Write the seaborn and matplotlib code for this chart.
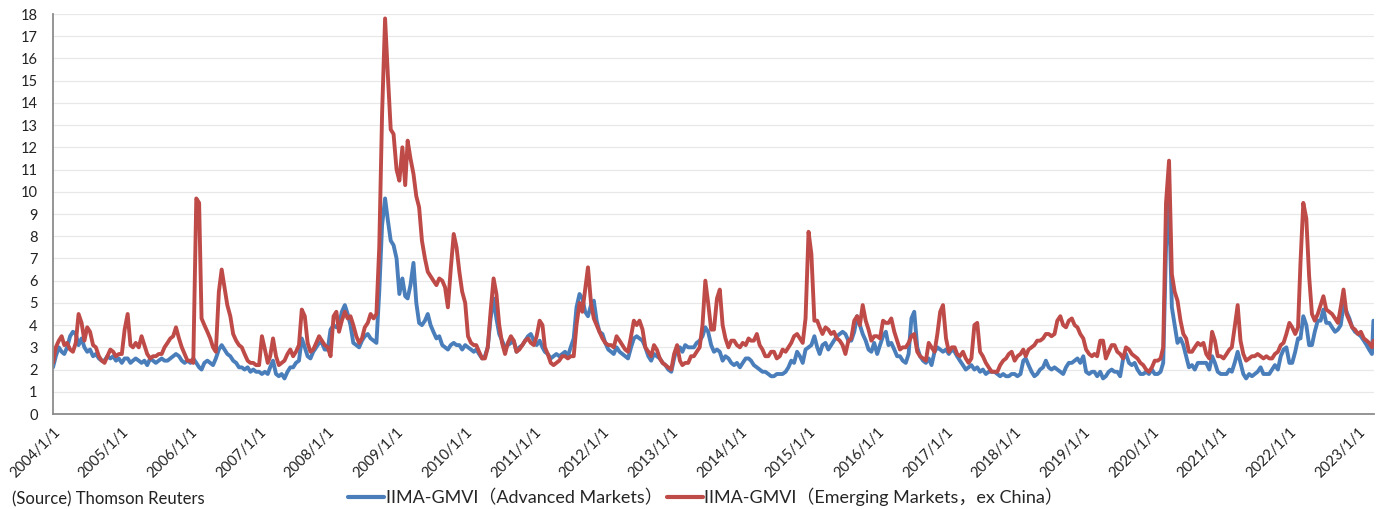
import matplotlib
matplotlib.use("Agg")
import matplotlib.pyplot as plt
import numpy as np
import pandas as pd
import seaborn as sns

# Semi-monthly readings (1st and 16th of each month), 2004/1/1 .. 2023/3
series_names = ["IIMA-GMVI（Advanced Markets）", "IIMA-GMVI（Emerging Markets，ex China）"]
year_ticks = list(range(2004, 2024))

advanced = [
    # 2004
    2.1, 2.6, 3.0, 2.8, 2.7, 3.0, 3.5, 3.7, 3.6, 3.1, 3.4, 3.0, 2.8, 2.9, 2.6, 2.7, 2.5, 2.4, 2.4, 2.6, 2.5, 2.6, 2.4, 2.5,
    # 2005
    2.3, 2.5, 2.5, 2.3, 2.4, 2.5, 2.4, 2.3, 2.4, 2.2, 2.5, 2.4, 2.3, 2.4, 2.5, 2.4, 2.4, 2.5, 2.6, 2.7, 2.6, 2.4, 2.3, 2.4,
    # 2006
    2.3, 2.5, 2.3, 2.1, 2.0, 2.3, 2.4, 2.3, 2.2, 2.5, 2.9, 3.1, 2.9, 2.7, 2.6, 2.4, 2.3, 2.1, 2.1, 2.0, 2.1, 1.9, 2.0, 1.9,
    # 2007
    1.9, 1.8, 1.9, 1.8, 2.1, 2.4, 1.8, 1.7, 1.8, 1.6, 1.9, 2.1, 2.1, 2.3, 2.4, 3.4, 3.0, 2.6, 2.5, 2.8, 3.0, 3.2, 3.2, 2.9,
    # 2008
    2.9, 3.8, 4.0, 3.9, 4.0, 4.6, 4.9, 4.5, 4.0, 3.2, 3.1, 3.0, 3.3, 3.5, 3.6, 3.4, 3.3, 3.2, 5.5, 8.5, 9.7, 8.7, 7.8, 7.6,
    # 2009
    7.0, 5.4, 6.1, 5.3, 5.2, 5.8, 6.8, 5.0, 4.1, 4.0, 4.2, 4.5, 4.0, 3.7, 3.4, 3.5, 3.1, 3.0, 2.9, 3.1, 3.2, 3.1, 3.1, 2.9,
    # 2010
    3.1, 3.0, 2.9, 2.8, 2.9, 2.7, 2.5, 2.6, 3.0, 4.3, 5.2, 4.3, 3.6, 3.3, 3.0, 3.1, 3.2, 3.3, 2.8, 3.0, 3.1, 3.3, 3.5, 3.6,
    # 2011
    3.3, 3.1, 3.3, 3.0, 2.8, 2.7, 2.5, 2.6, 2.7, 2.6, 2.7, 2.8, 2.6, 3.0, 3.4, 4.8, 5.4, 5.2, 4.6, 4.4, 4.9, 5.1, 4.2, 3.7,
    # 2012
    3.6, 3.2, 2.9, 2.8, 2.7, 3.0, 2.8, 2.7, 2.6, 2.5, 3.0, 3.4, 3.5, 3.4, 3.3, 3.0, 2.6, 2.4, 2.7, 2.6, 2.5, 2.3, 2.2, 2.0,
    # 2013
    1.9, 2.5, 3.0, 3.0, 2.8, 3.1, 3.0, 3.0, 3.0, 3.2, 3.3, 3.5, 3.9, 3.7, 3.1, 2.8, 2.9, 2.8, 2.4, 2.6, 2.5, 2.3, 2.2, 2.3,
    # 2014
    2.1, 2.3, 2.5, 2.5, 2.4, 2.2, 2.1, 2.0, 1.9, 1.9, 1.8, 1.7, 1.7, 1.8, 1.8, 1.8, 1.9, 2.1, 2.4, 2.3, 2.8, 2.6, 2.3, 2.9,
    # 2015
    3.0, 3.1, 3.5, 3.0, 2.7, 3.1, 3.2, 2.9, 3.1, 3.3, 3.5, 3.6, 3.7, 3.6, 3.3, 3.3, 3.7, 4.4, 4.0, 3.6, 3.3, 2.9, 2.8, 3.2,
    # 2016
    2.7, 3.1, 3.5, 3.7, 3.1, 3.2, 2.9, 2.6, 2.6, 2.4, 2.3, 2.7, 4.3, 4.6, 3.0, 2.6, 2.4, 2.3, 2.5, 2.2, 2.8, 3.0, 2.9, 2.8,
    # 2017
    2.9, 2.7, 2.9, 2.8, 2.6, 2.4, 2.2, 2.0, 2.1, 2.2, 2.0, 2.1, 1.9, 2.0, 1.8, 1.9, 1.9, 1.9, 1.8, 1.7, 1.8, 1.7, 1.7, 1.8,
    # 2018
    1.8, 1.7, 1.8, 2.4, 2.5, 2.2, 1.9, 1.7, 1.8, 2.0, 2.1, 2.4, 2.1, 2.0, 2.1, 2.0, 1.9, 1.8, 2.1, 2.3, 2.3, 2.4, 2.5, 2.3,
    # 2019
    2.6, 1.9, 1.8, 1.9, 1.9, 1.7, 1.9, 1.6, 1.7, 1.9, 2.0, 1.9, 1.9, 1.7, 2.5, 2.7, 2.3, 2.2, 2.3, 2.0, 1.8, 1.8, 1.9, 1.8,
    # 2020
    2.0, 1.8, 1.8, 1.9, 2.3, 7.5, 9.6, 4.8, 4.0, 3.2, 3.4, 3.1, 2.6, 2.1, 2.2, 2.0, 2.3, 2.3, 2.3, 2.3, 2.0, 2.6, 2.3, 1.9,
    # 2021
    1.8, 1.8, 1.8, 2.0, 1.9, 2.3, 2.8, 2.3, 1.8, 1.6, 1.8, 1.7, 1.8, 1.9, 2.1, 1.8, 1.8, 1.8, 2.0, 2.2, 2.0, 2.6, 2.9, 3.0,
    # 2022
    2.3, 2.3, 2.8, 3.4, 3.4, 4.4, 4.0, 3.1, 3.1, 3.7, 4.2, 4.2, 4.7, 4.1, 4.1, 3.9, 3.7, 3.8, 4.0, 4.9, 4.6, 4.3, 3.9, 3.7,
    # 2023 (Jan1 .. Mar16, Mar24)
    3.6, 3.5, 3.3, 3.1, 2.9, 2.7, 4.2,
]

emerging = [
    # 2004
    2.3, 3.0, 3.3, 3.5, 3.1, 3.2, 2.9, 2.8, 3.2, 4.5, 4.1, 3.3, 3.9, 3.7, 3.1, 3.0, 2.6, 2.4, 2.3, 2.6, 2.9, 2.8, 2.6, 2.7,
    # 2005
    2.7, 3.8, 4.5, 3.1, 3.0, 3.2, 3.0, 3.5, 3.1, 2.7, 2.5, 2.6, 2.6, 2.7, 2.7, 3.0, 3.2, 3.4, 3.5, 3.9, 3.4, 3.0, 2.7, 2.4,
    # 2006
    2.4, 2.3, 9.7, 9.5, 4.3, 4.0, 3.7, 3.4, 3.0, 2.8, 5.5, 6.5, 5.7, 4.9, 4.4, 3.6, 3.3, 3.1, 3.0, 2.7, 2.4, 2.3, 2.3, 2.2,
    # 2007
    2.2, 3.5, 2.9, 2.3, 2.6, 3.4, 2.6, 2.2, 2.3, 2.4, 2.7, 2.9, 2.6, 2.8, 3.1, 4.7, 4.4, 3.2, 2.8, 2.9, 3.2, 3.5, 3.3, 3.1,
    # 2008
    3.0, 2.6, 4.4, 4.6, 3.7, 4.2, 4.6, 4.3, 4.4, 4.0, 3.5, 3.2, 3.4, 3.9, 4.1, 4.5, 4.3, 4.5, 7.5, 13.5, 17.8, 15.2, 12.8, 12.6,
    # 2009
    11.0, 10.5, 12.0, 10.3, 12.3, 11.5, 10.8, 9.8, 9.3, 7.8, 7.0, 6.4, 6.2, 6.0, 5.8, 6.1, 6.0, 5.7, 4.8, 6.5, 8.1, 7.5, 6.4, 5.5,
    # 2010
    5.0, 3.5, 3.2, 3.1, 3.1, 2.8, 2.5, 2.5, 3.0, 4.6, 6.1, 5.4, 4.0, 3.2, 2.7, 3.2, 3.5, 3.3, 2.8, 2.9, 3.1, 3.3, 3.4, 3.2,
    # 2011
    3.1, 3.5, 4.2, 4.0, 3.0, 2.7, 2.3, 2.2, 2.3, 2.4, 2.6, 2.6, 2.5, 2.6, 2.6, 4.0, 5.0, 4.6, 5.6, 6.6, 5.0, 4.3, 4.0, 3.7,
    # 2012
    3.4, 3.2, 3.1, 3.1, 3.0, 3.5, 3.3, 3.1, 2.9, 2.8, 3.5, 4.2, 4.0, 4.2, 3.8, 3.0, 2.8, 2.6, 3.1, 2.9, 2.5, 2.3, 2.2, 2.1,
    # 2013
    2.0, 2.7, 3.1, 2.4, 2.2, 2.3, 2.3, 2.6, 2.6, 2.8, 3.0, 4.0, 6.0, 5.0, 3.8, 3.8, 5.2, 5.6, 4.0, 3.4, 3.0, 3.3, 3.3, 3.1,
    # 2014
    3.0, 3.2, 3.1, 3.4, 3.3, 3.3, 3.6, 3.1, 2.9, 2.6, 2.6, 2.8, 2.8, 2.5, 2.6, 2.9, 2.8, 3.0, 3.2, 3.5, 3.6, 3.4, 3.2, 4.3,
    # 2015
    8.2, 7.2, 4.2, 4.2, 3.9, 3.6, 3.9, 3.8, 3.6, 3.7, 3.4, 3.3, 3.1, 2.7, 3.3, 3.4, 4.2, 4.4, 4.0, 4.9, 4.2, 3.8, 3.3, 3.5,
    # 2016
    3.5, 3.4, 4.2, 4.1, 4.1, 4.3, 3.7, 3.3, 2.9, 3.0, 3.0, 3.2, 3.5, 3.6, 2.8, 2.6, 2.5, 2.4, 3.2, 3.0, 2.8, 3.6, 4.6, 4.9,
    # 2017
    3.4, 2.8, 3.0, 3.0, 2.7, 2.6, 2.8, 2.5, 2.3, 2.5, 4.0, 4.1, 2.8, 2.6, 2.3, 2.1, 1.9, 1.9, 1.9, 2.2, 2.4, 2.5, 2.7, 2.8,
    # 2018
    2.4, 2.6, 2.7, 2.9, 2.6, 2.9, 3.0, 3.1, 3.3, 3.3, 3.4, 3.6, 3.6, 3.5, 3.6, 4.2, 4.4, 4.0, 3.9, 4.2, 4.3, 4.0, 3.9, 3.6,
    # 2019
    3.4, 2.9, 2.7, 2.6, 2.7, 2.6, 3.3, 3.3, 2.5, 2.8, 3.1, 3.1, 2.8, 2.7, 2.5, 3.0, 2.9, 2.7, 2.6, 2.5, 2.3, 2.2, 2.0, 1.9,
    # 2020
    2.1, 2.4, 2.4, 2.5, 3.0, 9.5, 11.4, 6.3, 5.5, 5.1, 4.2, 3.6, 3.4, 2.8, 2.8, 3.0, 3.2, 3.1, 3.2, 2.7, 2.5, 3.7, 3.3, 2.6,
    # 2021
    2.6, 2.5, 2.7, 2.9, 3.0, 3.9, 4.9, 3.3, 2.7, 2.4, 2.5, 2.6, 2.6, 2.7, 2.6, 2.5, 2.6, 2.5, 2.5, 2.7, 2.8, 3.1, 3.2, 3.6,
    # 2022
    4.1, 3.9, 3.6, 3.9, 6.8, 9.5, 8.8, 6.2, 4.5, 4.2, 4.5, 4.9, 5.3, 4.7, 4.6, 4.5, 4.3, 4.1, 4.8, 5.6, 4.5, 4.2, 3.9, 3.8,
    # 2023 (Jan1 .. Mar16, Mar24)
    3.6, 3.7, 3.4, 3.3, 3.2, 3.0, 3.3,
]

# dates: 1st and 16th of each month, last reading 2023/3/24
dates = []
for y in range(2004, 2023):
    for m in range(1, 13):
        dates += [pd.Timestamp(y, m, 1), pd.Timestamp(y, m, 16)]
for m in range(1, 4):
    dates += [pd.Timestamp(2023, m, 1), pd.Timestamp(2023, m, 16)]
dates.append(pd.Timestamp(2023, 3, 24))

df = pd.concat([
    pd.DataFrame({"date": dates, "value": advanced, "series": series_names[0]}),
    pd.DataFrame({"date": dates, "value": emerging, "series": series_names[1]}),
], ignore_index=True)

sns.set_theme(style="white")
fam = ["Lato", "Noto Sans CJK JP", "DejaVu Sans"]
plt.rcParams["font.family"] = fam

fig = plt.figure(figsize=(13.84, 5.09), dpi=100)
ax = fig.add_axes([53 / 1384, 1 - 414 / 509, (1374 - 53) / 1384, 400 / 509])

palette = {series_names[0]: "#4A7EBB", series_names[1]: "#BE4B48"}
sns.lineplot(data=df, x="date", y="value", hue="series", palette=palette,
             linewidth=2.8, ax=ax, legend=True, sort=False)

ax.set_ylim(0, 18)
ax.set_yticks(range(0, 19))
ax.set_xlim(pd.Timestamp(2004, 1, 1), pd.Timestamp(2023, 3, 27))
ticks = [pd.Timestamp(y, 1, 1) for y in year_ticks]
ax.set_xticks(ticks)
ax.set_xticklabels([f"{y}/1/1" for y in year_ticks], rotation=45, ha="right",
                   rotation_mode="anchor")
ax.set_xlabel("")
ax.set_ylabel("")

ax.grid(axis="y", color="#E8E8E8", linewidth=0.9)
ax.grid(axis="x", visible=False)
for s in ["top", "right"]:
    ax.spines[s].set_visible(False)
for s in ["left", "bottom"]:
    ax.spines[s].set_color("#8C8C8C")
    ax.spines[s].set_linewidth(1.3)
ax.tick_params(axis="both", which="major", direction="out", length=5, width=1.1,
               color="#8C8C8C", labelsize=10.5, labelcolor="#222222", pad=3)
ax.tick_params(axis="y", pad=6)

handles, labels = ax.get_legend_handles_labels()
for h in handles:
    h.set_linewidth(3)
ax.get_legend().remove()
fig.legend(handles, labels, loc="center", bbox_to_anchor=(0.51, 0.024), ncol=2,
           frameon=False, handlelength=2.0, columnspacing=0.2,
           handletextpad=0.1, prop={"family": fam, "size": 13})

fig.text(0.009, 2 / 509, "(Source) Thomson Reuters", va="bottom", ha="left",
         fontsize=12, color="#222222")

fig.savefig("out.png", dpi=100)
